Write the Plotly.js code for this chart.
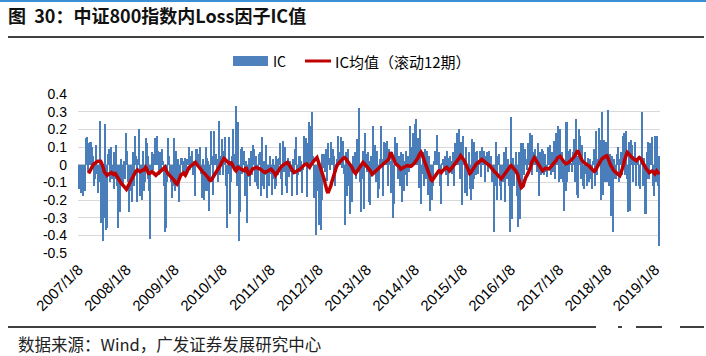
<!DOCTYPE html>
<html><head><meta charset="utf-8">
<script src="https://cdn.plot.ly/plotly-3.0.1.min.js"></script>
<style>html,body{margin:0;padding:0;background:#fff;}#chart{width:706px;height:356px;}</style>
</head><body><div id="chart"></div>
<script>
const startDate = '2007-01-08';
const tickDates = ['2007-01-08','2008-01-08','2009-01-08','2010-01-08','2011-01-08','2012-01-08','2013-01-08','2014-01-08','2015-01-08','2016-01-08','2017-01-08','2018-01-08','2019-01-08'];
const tickLabels = ['2007/1/8','2008/1/8','2009/1/8','2010/1/8','2011/1/8','2012/1/8','2013/1/8','2014/1/8','2015/1/8','2016/1/8','2017/1/8','2018/1/8','2019/1/8'];
const yTickVals = [0.4,0.3,0.2,0.1,0,-0.1,-0.2,-0.3,-0.4,-0.5];
const yTickText = ['0.4','0.3','0.2','0.1','0','-0.1','-0.2','-0.3','-0.4','-0.5'];

const icValues = [
-0.10,-0.14,-0.12,-0.16,-0.05,-0.18,-0.12,-0.15,0.15,0.155,
-0.04,0.12,0.06,0.13,0.04,0.10,0.05,-0.12,-0.08,0.11,
-0.05,-0.16,-0.10,0.25,-0.33,-0.33,-0.20,-0.43,-0.30,0.23,
-0.37,-0.36,0.06,0.09,-0.10,0.10,-0.08,-0.05,0.07,-0.14,
-0.08,0.11,-0.12,-0.36,-0.20,-0.27,0.03,-0.12,-0.12,0.02,
-0.08,-0.05,0.18,0.08,-0.10,-0.27,-0.15,-0.06,-0.21,0.07,
-0.12,0.16,0.05,-0.21,-0.10,0.03,0.20,-0.18,-0.05,-0.20,
0.08,-0.15,-0.10,0.15,0.12,0.05,-0.08,-0.15,-0.42,-0.05,
0.07,-0.03,0.06,0.15,0.10,0.16,0.08,-0.06,0.07,-0.05,
-0.03,0.09,0.02,-0.12,-0.38,-0.36,-0.10,0.15,0.05,-0.06,
-0.10,-0.05,-0.19,-0.12,0.15,-0.15,
0.08,-0.10,0.03,-0.21,-0.08,0.04,0.04,-0.04,0.02,-0.05,
0.04,-0.06,0.03,0.02,0.10,-0.03,0.05,0.08,-0.06,0.02,-0.04,
-0.18,0.09,0.09,0.02,0.06,0.10,-0.05,-0.19,0.03,-0.20,-0.08,
0.10,-0.15,0.04,0.02,-0.26,-0.10,0.19,0.05,-0.17,0.19,0.06,
0.06,-0.04,0.03,-0.10,0.25,-0.06,0.05,0.145,-0.06,0.08,
0.155,-0.12,-0.36,-0.05,0.155,0.02,-0.28,-0.10,0.05,
0.20,0.06,-0.03,0.33,-0.12,0.24,-0.43,-0.27,0.09,-0.05,
0.10,0.03,0.08,-0.18,0.02,-0.33,-0.07,0.04,-0.12,0.08,-0.06,
0.11,0.03,0.09,-0.10,0.05,-0.12,-0.14,0.06,0.07,-0.18,
0.155,-0.12,-0.14,0.02,-0.06,0.11,-0.19,-0.04,-0.12,0.05,-0.05,
-0.17,0.03,-0.08,
-0.14,0.05,-0.12,0.03,-0.06,0.04,0.12,-0.08,-0.17,0.135,-0.04,
0.10,-0.12,-0.16,0.03,0.04,-0.07,0.02,-0.04,-0.18,0.03,-0.05,
0.09,0.155,-0.17,-0.06,0.02,0.05,-0.04,0.02,-0.16,-0.03,
0.165,0.05,0.15,-0.185,0.12,0.24,0.08,0.22,0.10,0.30,0.05,
-0.19,-0.08,-0.40,-0.15,0.01,-0.34,-0.12,-0.37,-0.20,
0.06,-0.02,0.06,-0.04,0.09,-0.09,0.12,0.04,-0.03,0.13,0.02,
0.09,-0.06,0.05,-0.12,-0.04,0.03,0.165,0.07,0.03,0.155,-0.02,
0.135,-0.05,-0.34,-0.10,0.07,-0.18,0.09,-0.12,-0.28,-0.05,
-0.21,0.05,-0.03,0.07,-0.08,0.145,0.04,-0.02,0.32,-0.10,
-0.27,-0.08,0.08,-0.25,0.18,0.06,-0.04,0.07,-0.21,0.02,
-0.23,0.05,-0.06,
0.22,-0.05,0.11,-0.10,0.08,-0.19,-0.14,0.03,0.22,0.05,0.03,
-0.18,0.13,0.12,0.04,0.135,-0.12,0.09,0.02,-0.16,0.07,
-0.08,-0.30,-0.22,0.155,0.05,0.12,-0.08,0.05,-0.12,0.07,-0.21,
0.06,-0.15,0.02,-0.06,0.08,-0.12,0.05,-0.04,0.22,0.10,0.04,
0.18,0.06,0.23,0.12,0.26,0.08,0.15,-0.13,0.20,-0.22,-0.05,
0.07,-0.12,0.09,-0.08,0.08,0.03,-0.17,0.05,-0.26,-0.09,-0.20,
-0.12,0.02,0.08,0.03,0.17,0.05,-0.03,0.07,-0.12,-0.22,0.01,
0.03,-0.03,0.05,-0.06,0.08,-0.12,0.04,-0.04,0.05,0.02,-0.05,
0.07,-0.12,0.12,0.03,0.18,0.05,0.20,-0.08,0.13,-0.23,-0.10,
0.16,0.02,-0.16,0.10,-0.18,-0.06,0.07,-0.14,-0.20,
0.145,-0.14,0.13,-0.08,0.07,-0.06,0.08,-0.05,0.02,0.08,-0.07,
0.10,0.03,0.08,-0.06,-0.10,0.05,0.07,-0.04,0.08,0.02,0.05,
-0.10,-0.04,-0.38,-0.12,0.13,-0.12,-0.20,0.05,0.06,-0.12,
-0.20,-0.06,-0.10,0.07,-0.21,0.10,-0.08,0.03,-0.04,-0.12,-0.38,
0.27,-0.31,0.04,-0.12,-0.05,0.07,-0.18,-0.35,0.07,-0.31,0.05,
0.12,-0.12,0.12,-0.06,0.09,0.03,-0.03,0.12,0.04,0.18,0.06,
0.17,-0.06,0.07,0.02,0.09,0.05,-0.04,0.12,-0.18,0.07,-0.06,
0.09,-0.04,0.08,-0.06,0.06,-0.04,-0.07,0.10,0.03,0.11,-0.06,
0.07,-0.04,0.135,-0.08,0.04,0.18,0.05,0.22,-0.10,0.20,-0.08,
0.07,-0.10,-0.26,-0.05,-0.15,0.24,-0.10,0.08,-0.04,
0.09,0.01,-0.04,0.07,0.145,-0.10,0.26,-0.17,0.05,-0.19,0.20,
0.16,-0.08,0.11,-0.12,-0.14,0.07,-0.05,-0.12,0.04,-0.10,0.02,
0.03,-0.08,-0.14,0.02,0.09,-0.12,0.19,-0.06,0.03,0.21,0.08,
-0.20,0.14,0.30,-0.17,0.14,-0.10,0.13,-0.10,0.31,-0.12,0.06,
-0.29,0.05,-0.38,-0.08,0.03,-0.08,-0.08,0.06,0.10,-0.10,0.03,
0.07,-0.06,0.165,0.05,0.18,-0.06,0.19,-0.08,-0.27,0.13,
-0.26,0.14,0.11,-0.10,0.05,0.13,-0.12,-0.06,0.04,0.04,-0.12,
-0.14,0.05,0.30,-0.12,0.04,-0.28,-0.28,0.07,-0.08,0.13,-0.08,
0.12,0.03,0.155,-0.12,-0.18,0.16,-0.10,0.165,-0.12,0.05,-0.46
];

const icRollingMean = [
null,null,null,null,null,null,null,null,null,null,
null,-0.05,-0.04,-0.02,-0.01,0.0,0.0,0.005,0.01,0.01,
0.015,0.02,0.02,0.02,0.02,0.01,0.0,-0.02,-0.04,-0.05,
-0.055,-0.06,-0.055,-0.05,-0.05,-0.05,-0.045,-0.05,-0.055,-0.05,
-0.05,-0.06,-0.07,-0.08,-0.085,-0.09,-0.1,-0.11,-0.115,-0.12,
-0.13,-0.135,-0.14,-0.13,-0.12,-0.105,-0.09,-0.08,-0.07,-0.06,
-0.05,-0.045,-0.04,-0.035,-0.03,-0.035,-0.04,-0.04,-0.035,-0.03,
-0.03,-0.03,-0.02,-0.015,-0.025,-0.04,-0.05,-0.05,-0.045,-0.04,
-0.04,-0.045,-0.05,-0.055,-0.06,-0.055,-0.05,-0.05,-0.045,-0.04,
-0.03,-0.025,-0.025,-0.02,-0.015,-0.03,-0.045,-0.05,-0.055,-0.06,
-0.065,-0.07,-0.08,-0.085,-0.09,-0.1,-0.105,-0.11,-0.1,-0.085,
-0.065,-0.06,-0.055,-0.05,-0.047,-0.055,-0.06,-0.05,-0.035,-0.025,
-0.015,-0.012,-0.008,-0.005,0.0,0.005,0.01,0.013,0.005,-0.002,
-0.01,-0.017,-0.025,-0.03,-0.037,-0.043,-0.047,-0.05,-0.055,-0.06,
-0.065,-0.075,-0.085,-0.09,-0.088,-0.08,-0.072,-0.064,-0.056,-0.05,
-0.043,-0.036,-0.028,-0.02,-0.005,0.008,0.02,0.028,0.035,0.03,
0.025,0.02,0.012,0.005,0.006,0.008,0.01,0.0,-0.015,-0.025,
-0.03,-0.035,-0.02,-0.015,-0.018,-0.022,-0.025,-0.028,-0.03,-0.033,
-0.035,-0.025,-0.015,-0.03,-0.05,-0.06,-0.05,-0.04,-0.03,-0.025,
-0.022,-0.018,-0.015,-0.016,-0.018,-0.019,-0.02,-0.024,-0.028,-0.033,
-0.04,-0.045,-0.044,-0.043,-0.041,-0.04,-0.036,-0.032,-0.028,-0.025,
-0.03,-0.035,-0.04,-0.05,-0.06,-0.05,-0.04,-0.032,-0.025,-0.02,
-0.012,-0.006,-0.002,0.0,0.004,0.008,0.012,0.013,0.005,-0.005,
-0.015,-0.025,-0.035,-0.04,-0.045,-0.043,-0.04,-0.038,-0.036,-0.035,
-0.03,-0.024,-0.018,-0.012,-0.005,0.0,0.002,0.003,0.004,-0.004,
-0.01,-0.015,-0.005,0.005,0.012,0.018,0.024,0.03,0.035,0.04,
0.025,0.01,-0.005,-0.015,-0.03,-0.05,-0.07,-0.085,-0.11,-0.14,
-0.15,-0.16,-0.15,-0.135,-0.12,-0.1,-0.08,-0.06,-0.045,-0.03,
-0.015,-0.002,0.005,0.012,0.018,0.023,0.028,0.034,0.038,0.04,
0.035,0.028,0.023,0.016,0.009,0.002,-0.005,-0.015,-0.028,-0.04,
-0.045,-0.05,-0.042,-0.033,-0.025,-0.015,-0.005,0.005,0.01,0.013,
0.008,0.002,-0.005,-0.01,-0.015,-0.02,-0.025,-0.035,-0.045,-0.055,
-0.05,-0.045,-0.04,-0.035,-0.03,-0.022,-0.015,-0.01,-0.006,-0.002,
0.0,0.004,0.008,0.012,0.016,0.02,0.025,0.03,0.05,0.07,
0.06,0.05,0.04,0.025,0.008,0.004,0.0,-0.003,-0.005,-0.015,
-0.025,-0.022,-0.018,-0.015,-0.012,-0.01,-0.007,-0.005,-0.006,-0.008,
-0.009,-0.01,-0.006,-0.002,0.004,0.01,0.017,0.024,0.03,0.042,
0.055,0.062,0.07,0.06,0.045,0.03,0.012,-0.005,-0.018,-0.032,
-0.045,-0.055,-0.07,-0.085,-0.09,-0.082,-0.072,-0.065,-0.057,-0.05,
-0.044,-0.037,-0.035,-0.04,-0.045,-0.038,-0.031,-0.025,-0.02,-0.017,
-0.015,-0.022,-0.03,-0.035,-0.028,-0.021,-0.015,-0.008,-0.002,0.004,
0.009,0.014,0.02,0.03,0.04,0.05,0.045,0.04,0.03,0.023,
0.012,0.0,-0.012,-0.025,-0.04,-0.05,-0.045,-0.035,-0.026,-0.017,
-0.008,0.0,0.004,0.008,0.011,0.013,0.018,0.024,0.03,0.027,
0.022,0.017,0.013,0.009,0.005,0.002,0.0,-0.008,-0.015,-0.023,
-0.03,-0.036,-0.041,-0.045,-0.052,-0.06,-0.067,-0.072,-0.078,-0.08,
-0.074,-0.066,-0.06,-0.054,-0.047,-0.038,-0.028,-0.018,-0.013,-0.009,
-0.005,-0.01,-0.017,-0.024,-0.031,-0.036,-0.045,-0.055,-0.08,-0.1,
-0.12,-0.13,-0.125,-0.12,-0.1,-0.08,-0.07,-0.062,-0.055,-0.04,
-0.025,-0.015,0.01,0.025,0.035,0.04,0.032,0.023,0.015,0.005,
-0.004,-0.013,-0.022,-0.03,-0.035,-0.03,-0.025,-0.02,-0.022,-0.024,
-0.025,-0.024,-0.018,-0.012,-0.007,-0.005,0.002,0.008,0.013,0.025,
0.037,0.042,0.045,0.047,0.04,0.03,0.023,0.016,0.01,0.005,
0.004,0.008,0.012,0.015,0.022,0.025,0.03,0.036,0.04,0.05,
0.06,0.07,0.08,0.07,0.055,0.045,0.033,0.023,0.018,0.012,
0.007,0.004,0.002,-0.001,-0.004,-0.01,-0.016,-0.021,-0.025,-0.032,
-0.038,-0.035,-0.025,-0.015,-0.002,0.01,0.02,0.025,0.03,0.035,
0.04,0.043,0.046,0.049,0.05,0.04,0.025,0.01,-0.003,-0.015,
-0.022,-0.03,-0.037,-0.042,-0.048,-0.053,-0.056,-0.059,-0.062,-0.05,
-0.035,-0.025,0.0,0.025,0.045,0.06,0.07,0.065,0.058,0.05,
0.045,0.04,0.035,0.032,0.029,0.026,0.023,0.03,0.036,0.04,
0.036,0.032,0.02,0.008,-0.005,-0.011,-0.018,-0.025,-0.032,-0.039,
-0.045,-0.042,-0.039,-0.036,-0.04,-0.047,-0.053,-0.044,-0.035,-0.042,
-0.048,-0.053
];

function addDays(s, n) {
  const d = new Date(s + 'T00:00:00Z');
  d.setUTCDate(d.getUTCDate() + n);
  return d.toISOString().slice(0, 10);
}
const weekDates = icValues.map((_, i) => addDays(startDate, 7 * i));
const DAY = 86400000;

const W = 706, H = 356;
const L = 78, R = 46, T = 94, B = 103;
const pw = W - L - R, ph = H - T - B;
const px = v => (v - L) / pw;
const py = v => (H - B - v) / ph;

const cjk = '"Noto Sans CJK SC", "Noto Sans", sans-serif';
const latin = '"Liberation Sans", Arial, sans-serif';

const traces = [
  {type: 'bar', x: weekDates, y: icValues, name: 'IC', width: 7 * DAY * 2.2,
   marker: {color: '#4A7EBB', line: {width: 0}}, hoverinfo: 'skip'},
  {type: 'scatter', mode: 'lines', x: weekDates.slice(0, icRollingMean.length), y: icRollingMean,
   name: 'IC均值（滚动12期）', line: {color: '#C00000', width: 3.5}, connectgaps: false, hoverinfo: 'skip'}
];

const layout = {
  width: W, height: H,
  margin: {l: L, r: R, t: T, b: B, pad: 0},
  paper_bgcolor: '#fff', plot_bgcolor: '#fff',
  showlegend: false,
  bargap: 0,
  title: {text: '<b>图\u00a0\u00a030：中证800指数内Loss因子IC值</b>', x: 8 / W, xanchor: 'left', xref: 'container',
          y: 1 - 17 / H, yanchor: 'middle', yref: 'container',
          font: {family: cjk, size: 18, color: '#111'}},
  xaxis: {type: 'date', range: [addDays(startDate, -4), addDays(startDate, 7 * (icValues.length - 1) + 4)],
          tickvals: tickDates, ticktext: tickLabels, tickangle: -45,
          tickfont: {family: latin, size: 15, color: '#000'},
          showgrid: false, zeroline: false, showline: false, ticks: '', ticklabelstandoff: 4},
  yaxis: {range: [-0.5, 0.4], tickvals: yTickVals, ticktext: yTickText,
          tickfont: {family: latin, size: 14, color: '#000'},
          showgrid: true, gridcolor: '#D9D9D9', gridwidth: 1,
          zeroline: true, zerolinecolor: '#BFBFBF', zerolinewidth: 1.5,
          showline: false, ticks: '', ticklabelstandoff: 10},
  shapes: [
    {type: 'line', xref: 'paper', yref: 'paper', x0: px(0), x1: px(706), y0: py(1), y1: py(1), line: {color: '#3A8FD6', width: 2}},
    {type: 'line', xref: 'paper', yref: 'paper', x0: px(8), x1: px(704), y0: py(37), y1: py(37), line: {color: '#000', width: 1.5}},
    {type: 'rect', xref: 'paper', yref: 'paper', x0: px(233), x1: px(268), y0: py(66), y1: py(56), fillcolor: '#4F81BD', line: {width: 0}},
    {type: 'line', xref: 'paper', yref: 'paper', x0: px(305), x1: px(331), y0: py(61), y1: py(61), line: {color: '#C00000', width: 3}},
    {type: 'line', xref: 'paper', yref: 'paper', x0: px(8), x1: px(596), y0: py(327), y1: py(327), line: {color: '#000', width: 1.5}},
    {type: 'line', xref: 'paper', yref: 'paper', x0: px(618), x1: px(622), y0: py(327), y1: py(327), line: {color: '#000', width: 1.5}},
    {type: 'line', xref: 'paper', yref: 'paper', x0: px(636), x1: px(662), y0: py(327), y1: py(327), line: {color: '#000', width: 1.5}},
    {type: 'line', xref: 'paper', yref: 'paper', x0: px(680), x1: px(704), y0: py(327), y1: py(327), line: {color: '#000', width: 1.5}}
  ],
  annotations: [
    {xref: 'paper', yref: 'paper', x: px(271), y: py(61), xanchor: 'left', yanchor: 'middle', showarrow: false,
     text: 'IC', font: {family: cjk, size: 14, color: '#000'}},
    {xref: 'paper', yref: 'paper', x: px(333), y: py(61), xanchor: 'left', yanchor: 'middle', showarrow: false,
     text: 'IC均值（滚动12期）', font: {family: cjk, size: 15, color: '#000'}},
    {xref: 'paper', yref: 'paper', x: px(16), y: py(344), xanchor: 'left', yanchor: 'middle', showarrow: false,
     text: '数据来源：Wind，广发证券发展研究中心', font: {family: cjk, size: 16.5, color: '#222'}}
  ]
};

Plotly.newPlot('chart', traces, layout, {staticPlot: true, displayModeBar: false});
</script></body></html>
